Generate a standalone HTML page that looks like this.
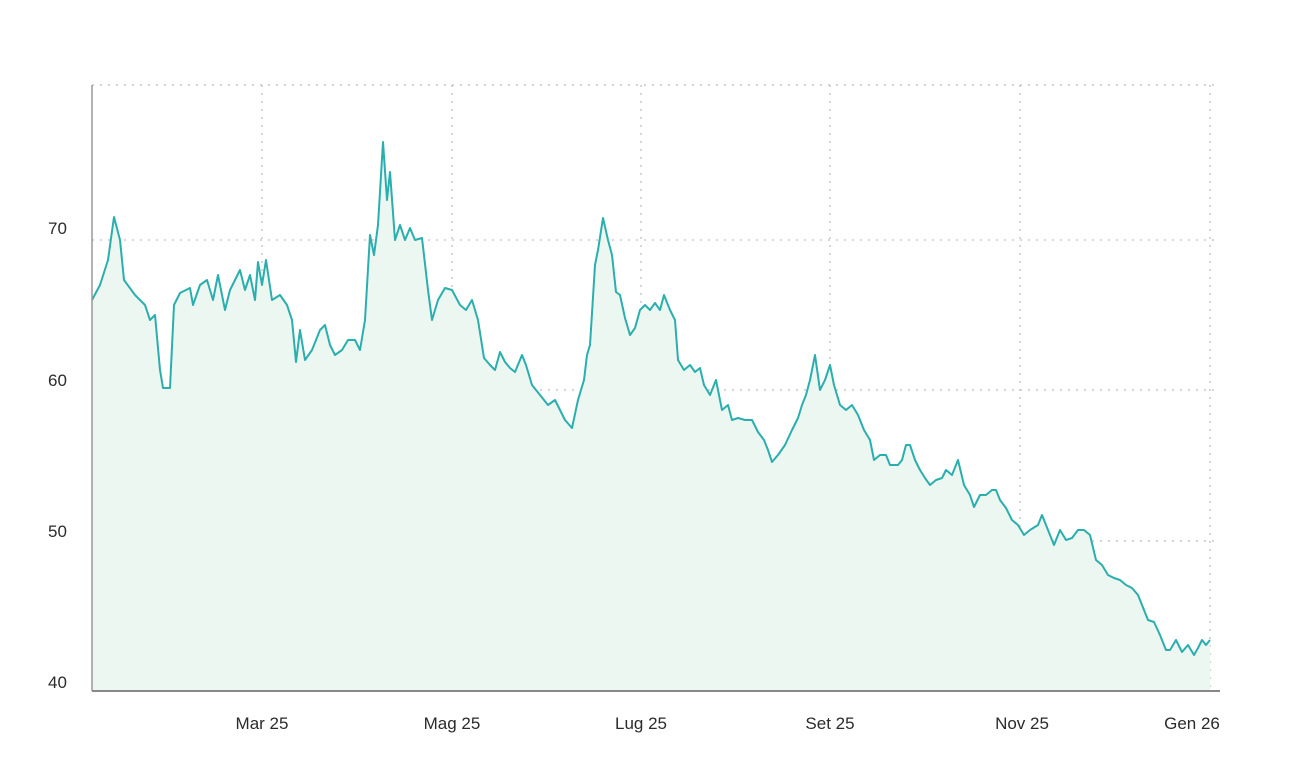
<!DOCTYPE html>
<html><head><meta charset="utf-8"><style>
html,body{margin:0;padding:0;background:#fff}
svg{display:block}
text{font-family:"Liberation Sans",sans-serif;font-size:17px;fill:#2b2b2b}
</style></head><body>
<svg width="1312" height="784" viewBox="0 0 1312 784">
<g stroke="#c8c8c8" stroke-width="1.5" stroke-dasharray="2,6" fill="none">
<line x1="92" y1="85" x2="1218" y2="85"/>
<line x1="92" y1="240" x2="1218" y2="240"/>
<line x1="92" y1="390" x2="1218" y2="390"/>
<line x1="92" y1="541" x2="1218" y2="541"/>
<line x1="262" y1="85" x2="262" y2="690"/>
<line x1="452" y1="85" x2="452" y2="690"/>
<line x1="641" y1="85" x2="641" y2="690"/>
<line x1="830" y1="85" x2="830" y2="690"/>
<line x1="1020" y1="85" x2="1020" y2="690"/>
<line x1="1210" y1="85" x2="1210" y2="690"/>
</g>
<polygon fill="#edf7f1" points="92,690 92,300 100,285 108,260 114,217 120,240 124,280 135,295 145,305 150,320 155,315 160,370 163,388 170,388 174,305 180,293 190,288 193,305 200,285 207,280 213,300 218,275 225,310 230,290 240,270 245,290 250,275 255,300 258,262 262,285 266,260 272,300 280,295 287,305 292,320 296,362 300,330 305,360 312,350 320,330 325,325 330,345 335,355 342,350 348,340 355,340 360,350 365,320 370,235 374,255 378,225 383,142 387,200 390,172 395,240 400,225 405,240 410,228 415,240 422,238 428,290 432,320 438,300 445,288 452,290 460,305 466,310 472,300 478,320 484,358 490,365 495,370 500,352 505,362 510,368 515,372 522,355 526,365 532,385 540,395 548,405 555,400 560,410 565,420 572,428 578,400 584,380 587,355 590,345 595,265 598,250 603,218 608,240 612,255 616,292 620,295 625,318 630,335 635,328 640,310 645,305 650,310 655,303 660,310 664,295 670,310 675,320 678,360 684,370 690,365 695,372 700,368 704,385 710,395 716,380 722,410 728,405 732,420 738,418 745,420 752,420 758,432 764,440 768,450 772,462 778,455 785,445 792,430 798,418 802,405 806,395 810,380 815,355 820,390 825,380 830,365 834,385 840,405 846,410 852,405 858,415 864,430 870,440 874,460 880,455 886,455 890,465 898,465 902,460 906,445 910,445 915,460 920,470 925,478 930,485 936,480 942,478 946,470 952,475 958,460 964,485 970,495 974,507 980,495 986,495 992,490 996,490 1000,500 1006,508 1012,520 1018,525 1024,535 1030,530 1038,525 1042,515 1048,530 1054,545 1060,530 1066,540 1072,538 1078,530 1084,530 1090,535 1096,560 1102,565 1108,575 1114,578 1120,580 1126,585 1132,588 1138,595 1142,605 1148,620 1154,622 1160,635 1166,650 1170,650 1176,640 1182,652 1188,645 1194,655 1198,648 1202,640 1206,645 1210,640 1210,690"/>
<polyline fill="none" stroke="#2aaeae" stroke-width="2" stroke-linejoin="round" points="92,300 100,285 108,260 114,217 120,240 124,280 135,295 145,305 150,320 155,315 160,370 163,388 170,388 174,305 180,293 190,288 193,305 200,285 207,280 213,300 218,275 225,310 230,290 240,270 245,290 250,275 255,300 258,262 262,285 266,260 272,300 280,295 287,305 292,320 296,362 300,330 305,360 312,350 320,330 325,325 330,345 335,355 342,350 348,340 355,340 360,350 365,320 370,235 374,255 378,225 383,142 387,200 390,172 395,240 400,225 405,240 410,228 415,240 422,238 428,290 432,320 438,300 445,288 452,290 460,305 466,310 472,300 478,320 484,358 490,365 495,370 500,352 505,362 510,368 515,372 522,355 526,365 532,385 540,395 548,405 555,400 560,410 565,420 572,428 578,400 584,380 587,355 590,345 595,265 598,250 603,218 608,240 612,255 616,292 620,295 625,318 630,335 635,328 640,310 645,305 650,310 655,303 660,310 664,295 670,310 675,320 678,360 684,370 690,365 695,372 700,368 704,385 710,395 716,380 722,410 728,405 732,420 738,418 745,420 752,420 758,432 764,440 768,450 772,462 778,455 785,445 792,430 798,418 802,405 806,395 810,380 815,355 820,390 825,380 830,365 834,385 840,405 846,410 852,405 858,415 864,430 870,440 874,460 880,455 886,455 890,465 898,465 902,460 906,445 910,445 915,460 920,470 925,478 930,485 936,480 942,478 946,470 952,475 958,460 964,485 970,495 974,507 980,495 986,495 992,490 996,490 1000,500 1006,508 1012,520 1018,525 1024,535 1030,530 1038,525 1042,515 1048,530 1054,545 1060,530 1066,540 1072,538 1078,530 1084,530 1090,535 1096,560 1102,565 1108,575 1114,578 1120,580 1126,585 1132,588 1138,595 1142,605 1148,620 1154,622 1160,635 1166,650 1170,650 1176,640 1182,652 1188,645 1194,655 1198,648 1202,640 1206,645 1210,640"/>
<line x1="92" y1="85" x2="92" y2="691" stroke="#999" stroke-width="1.5"/>
<line x1="92" y1="691" x2="1220" y2="691" stroke="#888" stroke-width="2"/>
<text x="48" y="234">70</text>
<text x="48" y="386">60</text>
<text x="48" y="537">50</text>
<text x="48" y="688">40</text>
<text x="262" y="729" text-anchor="middle">Mar 25</text>
<text x="452" y="729" text-anchor="middle">Mag 25</text>
<text x="641" y="729" text-anchor="middle">Lug 25</text>
<text x="830" y="729" text-anchor="middle">Set 25</text>
<text x="1022" y="729" text-anchor="middle">Nov 25</text>
<text x="1192" y="729" text-anchor="middle">Gen 26</text>
</svg>
</body></html>
